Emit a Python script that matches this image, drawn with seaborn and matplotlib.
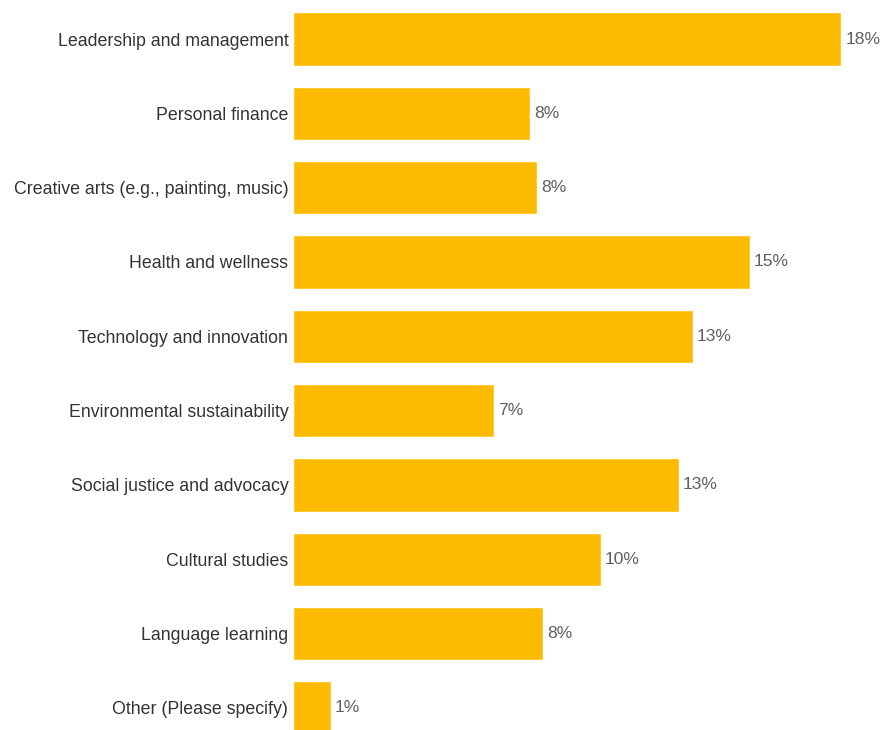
import matplotlib
matplotlib.use("Agg")
import matplotlib.pyplot as plt
import seaborn as sns
import pandas as pd

categories = [
    "Leadership and management",
    "Personal finance",
    "Creative arts (e.g., painting, music)",
    "Health and wellness",
    "Technology and innovation",
    "Environmental sustainability",
    "Social justice and advocacy",
    "Cultural studies",
    "Language learning",
    "Other (Please specify)",
]
shares = [17.88, 7.72, 7.95, 14.89, 13.03, 6.55, 12.58, 10.04, 8.15, 1.22]

df = pd.DataFrame({"topic": categories, "share": shares})

sns.set_theme(style="white")
plt.rcParams["font.family"] = ["Liberation Sans", "DejaVu Sans"]

fig = plt.figure(figsize=(8.86, 7.30), dpi=100)
ax = fig.add_axes([293.3 / 886, 0.0, 582.5 / 886, 1.0])

bar_color = "#FDBB00"
sns.barplot(data=df, y="topic", x="share", orient="h", color=bar_color,
            width=0.715, saturation=1, ax=ax)

ax.set_xlim(0, 19)
ax.set_ylim(9.297, -0.525)

for i, v in enumerate(shares):
    ax.text(v + 0.13, i, f"{round(v):.0f}%", va="center", ha="left",
            fontsize=12.6, color="#5f5f5f")

ax.set_xlabel("")
ax.set_ylabel("")
ax.set_xticks([])
ax.tick_params(axis="y", length=0, pad=3.6, labelsize=12.8, labelcolor="#333333")
for s in ax.spines.values():
    s.set_visible(False)

fig.savefig("out.png", dpi=100, facecolor="white")
